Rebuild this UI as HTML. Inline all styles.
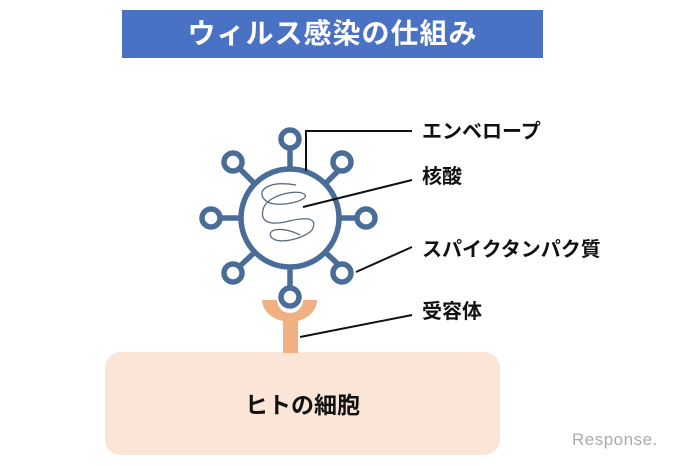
<!DOCTYPE html>
<html><head><meta charset="utf-8"><style>
body{margin:0;width:699px;height:466px;background:#fff;overflow:hidden;position:relative;font-family:"Liberation Sans","Noto Sans CJK JP",sans-serif}
.t{position:absolute;font-weight:bold;color:#111;font-size:20px;line-height:20px;white-space:nowrap}
</style></head><body>
<div style="position:absolute;left:122px;top:10px;width:421px;height:48px;background:#4a72c4;color:#fff;font-weight:bold;font-size:28px;line-height:48px;text-align:center;letter-spacing:1px">ウィルス感染の仕組み</div>
<div style="position:absolute;left:105px;top:352px;width:395px;height:103px;background:#fbe5d6;border-radius:16px"></div>
<div class="t" style="left:105px;width:395px;top:392px;text-align:center;font-size:23px;line-height:26px">ヒトの細胞</div>
<svg width="699" height="466" style="position:absolute;left:0;top:0">
<g stroke="#4a6d98" stroke-width="5.5" fill="none">
<circle cx="290" cy="218" r="49"/>
<line x1="290" y1="150" x2="290" y2="169"/><line x1="290" y1="267" x2="290" y2="286"/>
<line x1="222" y1="218" x2="241" y2="218"/><line x1="339" y1="218" x2="355" y2="218"/>
<line x1="241" y1="170" x2="255" y2="184"/><line x1="339" y1="170" x2="325" y2="184"/>
<line x1="241" y1="265" x2="255" y2="252"/><line x1="339" y1="265" x2="325" y2="252"/>
</g>
<path d="M262 300 H277 A13 13 0 0 0 303 300 H317 A27 22 0 0 1 298 321 V353 H283 V321 A27 22 0 0 1 262 300 Z" fill="#f0b082"/>
<g stroke="#4a6d98" stroke-width="5.5" fill="#fff">
<circle cx="290" cy="139" r="9"/><circle cx="290" cy="297" r="9"/>
<circle cx="211" cy="218" r="9"/><circle cx="366" cy="218" r="9"/>
<circle cx="233" cy="162" r="9"/><circle cx="342" cy="162" r="9"/>
<circle cx="233" cy="273" r="9"/><circle cx="342" cy="273" r="9"/>
</g>
<path d="M296 185 C270 180 255 190 265 200 C275 210 310 200 305 195 C300 188 265 195 263 210 C260 222 270 225 285 222 C300 218 320 215 312 230 C305 238 280 245 272 238 C265 230 280 225 300 235" stroke="#5a6a80" stroke-width="1.3" fill="none"/>
<g stroke="#111" stroke-width="2" fill="none">
<polyline points="306,171 306,131 412,131"/>
<line x1="303" y1="207" x2="412" y2="180"/>
<line x1="356" y1="272" x2="412" y2="247"/>
<line x1="300" y1="337" x2="412" y2="315"/>
</g>
</svg>
<div class="t" style="left:422px;top:122px">エンベロープ</div>
<div class="t" style="left:422px;top:167px">核酸</div>
<div class="t" style="left:422px;top:240px">スパイクタンパク質</div>
<div class="t" style="left:422px;top:302px">受容体</div>
<div style="position:absolute;left:572px;top:430px;color:#aaa;font-size:17px;letter-spacing:0.5px">Response.</div>
</body></html>
